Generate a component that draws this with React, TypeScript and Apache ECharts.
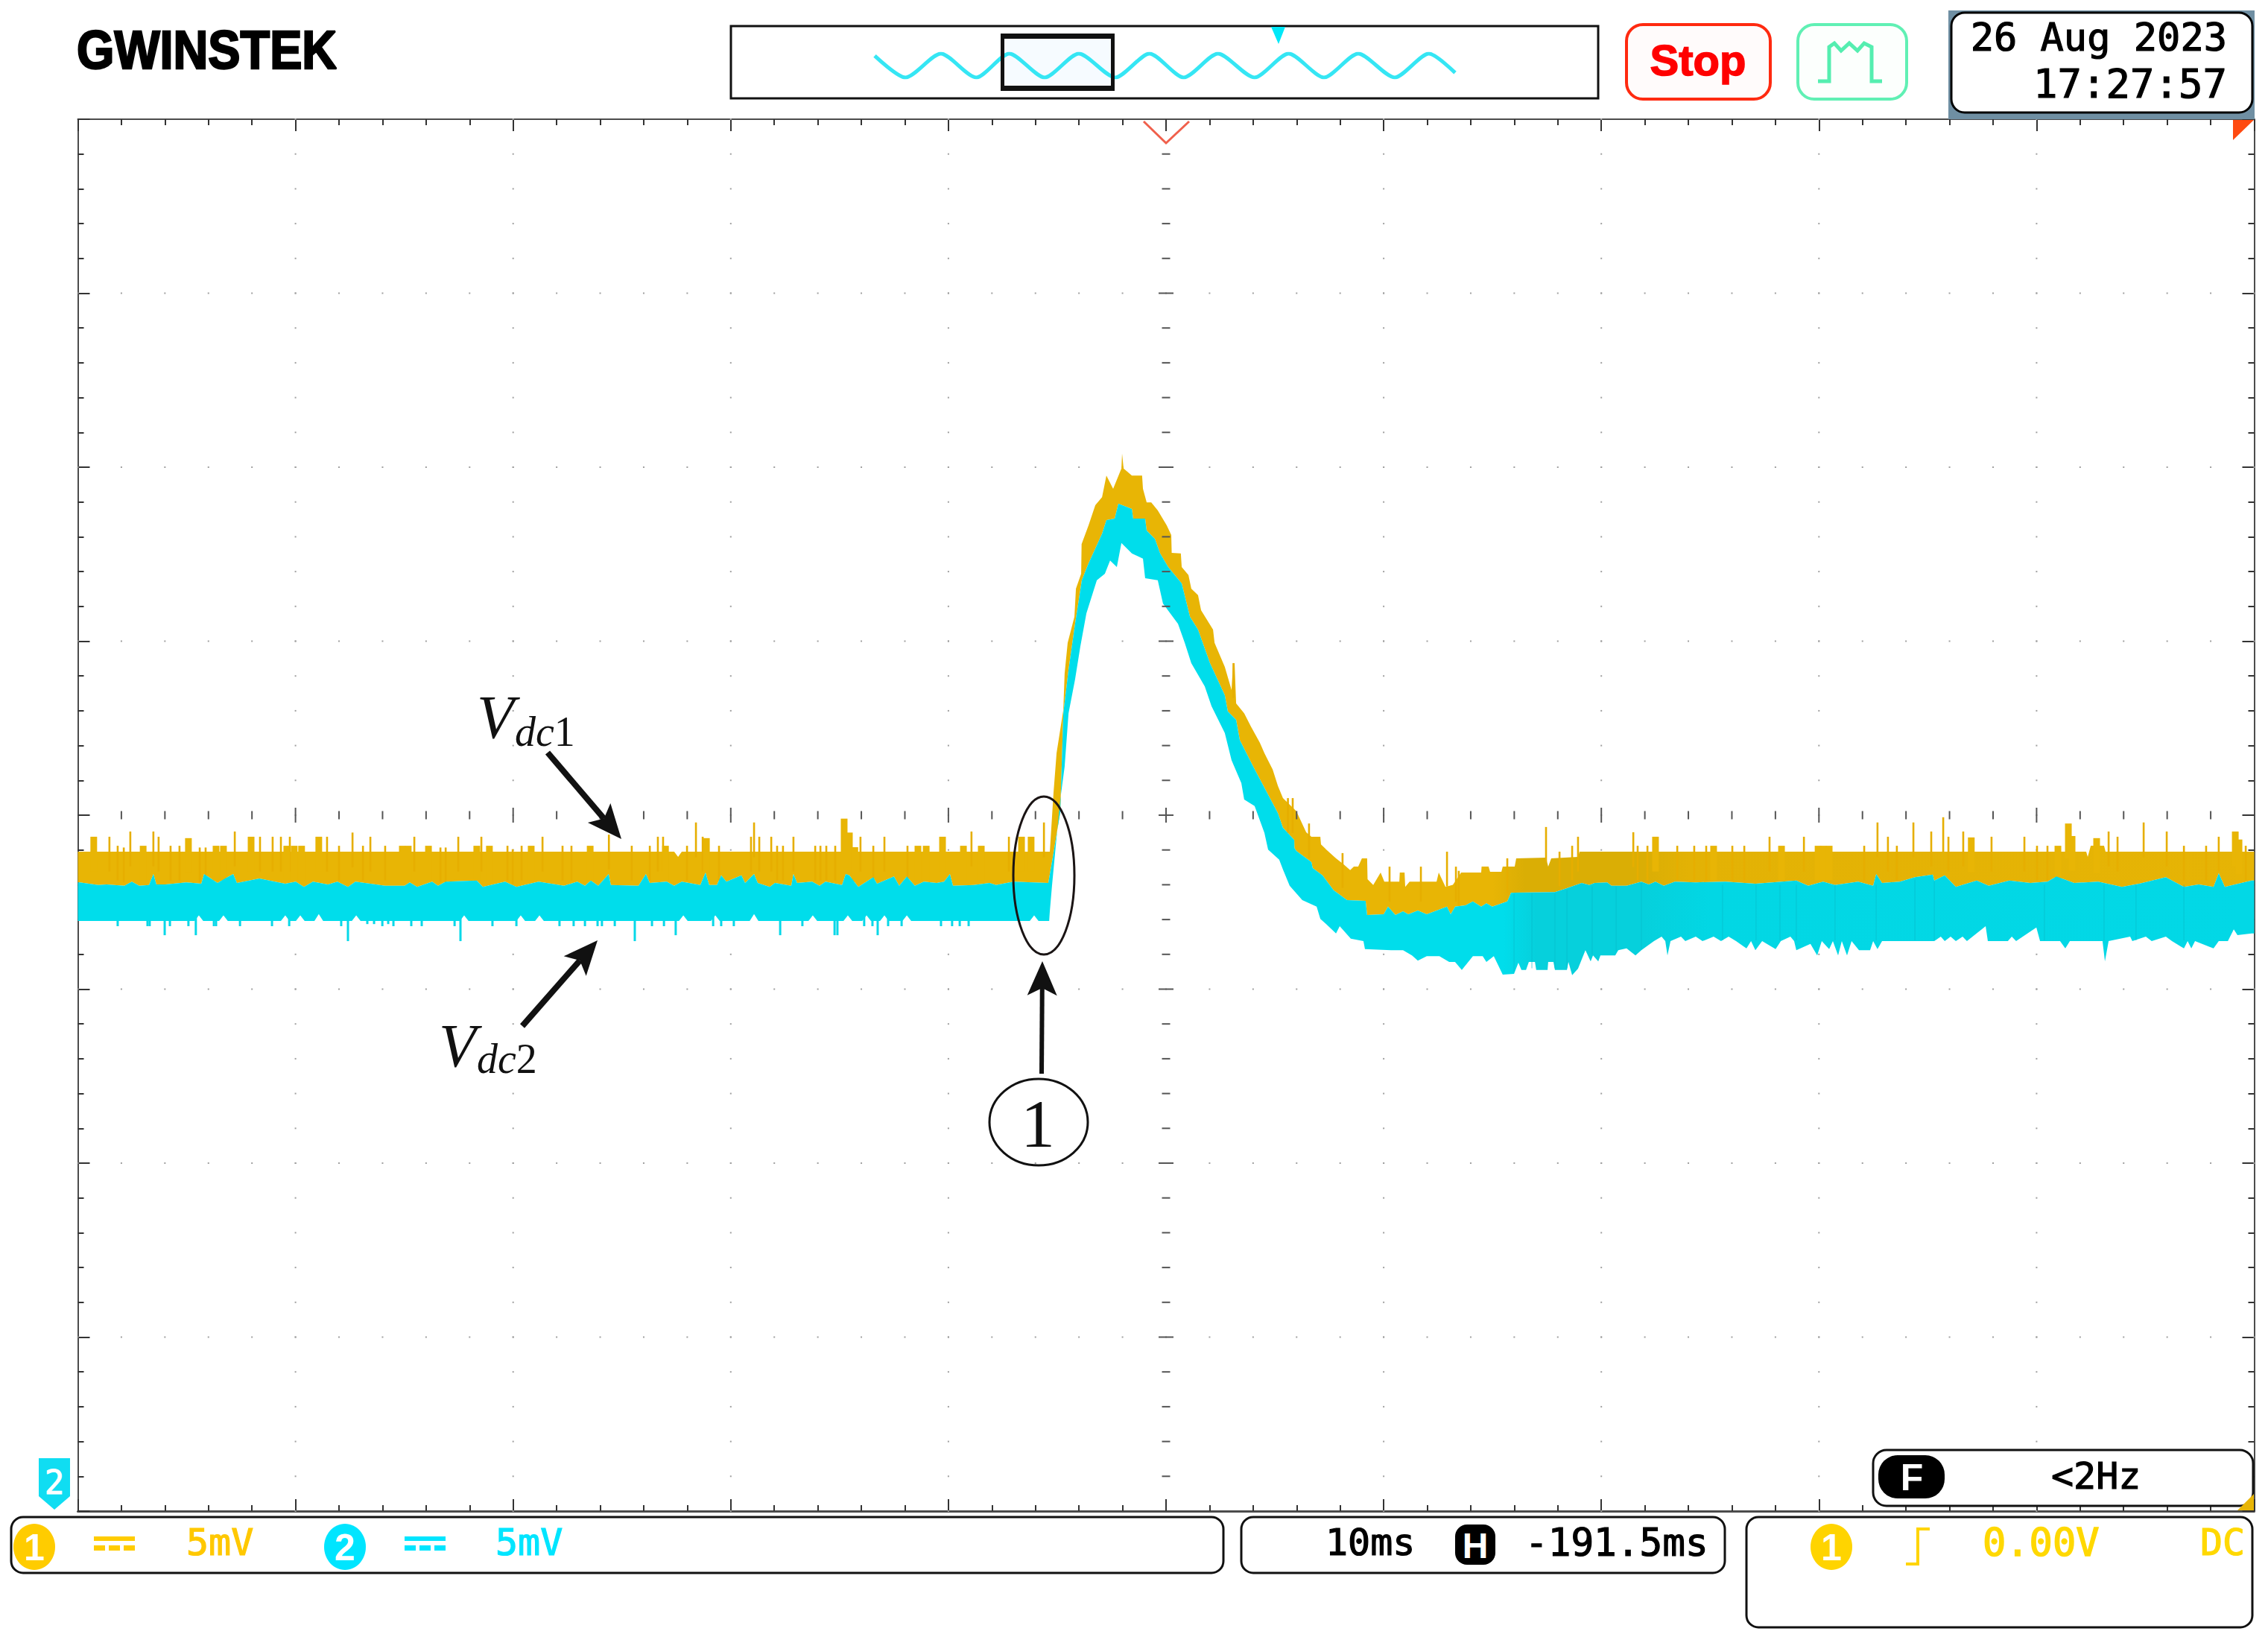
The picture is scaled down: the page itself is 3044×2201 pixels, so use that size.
import React, { useEffect, useRef } from "react";
import * as echarts from "echarts";

// ---------- axes (10 ms/div, 5 mV/div) ----------
const timeMin = -50;
const timeMax = 50;
const timeDiv = 10;
const voltMin = -20;
const voltMax = 20;
const voltDiv = 5;

// ---------- Ch1 Vdc1 upper envelope [ms, mV] ----------
const yellowTop: number[][] = [
  [-50, -1.05], [-22.6, -1.05], [-22.42, -1.2], [-22.25, -1.05], [-5.34, -1.05], [-5.17, 0.64], [-5.03, 1.78],
  [-4.72, 3.02], [-4.66, 4.07], [-4.52, 4.95], [-4.21, 5.7], [-4.14, 6.51], [-3.9, 6.94], [-3.88, 7.79],
  [-3.56, 8.33], [-3.25, 8.91], [-2.94, 9.14], [-2.74, 9.76], [-2.43, 9.38], [-2.05, 9.96], [-2.02, 10.39],
  [-1.95, 9.96], [-1.57, 9.76], [-1.1, 9.76], [-1.06, 9.38], [-0.89, 8.99], [-0.68, 8.99], [-0.38, 8.76],
  [0.03, 8.33], [0.24, 8.05], [0.26, 7.54], [0.68, 7.52], [0.72, 7.13], [1.03, 6.9], [1.16, 6.51], [1.47, 6.32],
  [1.61, 5.89], [2.16, 5.33], [2.23, 4.95], [2.7, 4.26], [3.01, 3.6], [3.08, 4.37], [3.15, 4.37], [3.22, 3.21],
  [3.59, 2.93], [3.9, 2.55], [4.31, 2.08], [4.52, 1.78], [4.9, 1.31], [5.14, 0.84], [5.37, 0.49], [5.99, 0.11],
  [6.44, -0.49], [6.68, -0.62], [7.09, -0.62], [7.12, -0.84], [7.43, -1.03], [7.81, -1.24], [8.15, -1.41],
  [8.46, -1.58], [8.63, -1.48], [8.83, -1.48], [9.0, -1.24], [9.24, -1.24], [9.26, -1.84], [9.52, -2.01],
  [9.86, -1.65], [10.03, -1.91], [10.72, -1.91], [10.74, -1.65], [10.96, -1.65], [10.99, -2.06], [11.19, -1.91],
  [12.43, -1.91], [12.53, -1.65], [12.84, -2.06], [13.18, -2.0], [13.56, -1.65], [14.48, -1.65], [14.5, -1.48],
  [14.82, -1.48], [14.89, -1.63], [15.41, -1.63], [15.47, -1.48], [16.02, -1.48], [16.09, -1.24], [17.46, -1.22],
  [17.56, -1.48], [17.7, -1.24], [18.93, -1.2], [19.0, -1.05], [42.28, -1.05], [42.35, -1.2], [42.49, -0.88],
  [43.1, -0.88], [43.17, -1.05], [50, -1.05],
];

// Ch1 narrow spikes, tip [ms, mV]
const yellowSpikes: number[][] = [
  [-48.55, -0.62], [-48.17, -0.88], [-47.89, -0.93], [-47.59, -0.47], [-46.53, -0.47], [-46.29, -0.62], [-45.74, -0.88],
  [-45.33, -0.88], [-44.4, -0.93], [-44.13, -0.93], [-42.79, -0.47], [-41.63, -0.62], [-41.05, -0.62], [-40.67, -0.62],
  [-40.26, -0.62], [-38.55, -0.62], [-38.0, -0.88], [-37.38, -0.5], [-36.9, -0.88], [-36.56, -0.62], [-35.88, -0.88],
  [-34.54, -0.62], [-33.34, -0.93], [-33.1, -0.93], [-32.52, -0.62], [-31.46, -0.62], [-30.26, -0.88], [-30.02, -0.98],
  [-29.61, -0.88], [-28.65, -0.62], [-27.73, -0.88], [-27.32, -0.88], [-25.6, -0.56], [-24.55, -0.88], [-23.72, -0.88],
  [-23.35, -0.62], [-23.11, -0.62], [-22.01, -0.88], [-21.6, -0.21], [-21.29, -0.62], [-20.54, -0.88], [-19.07, -0.62],
  [-18.93, -0.21], [-18.69, -0.62], [-18.14, -0.62], [-17.87, -0.88], [-17.6, -0.88], [-17.12, -0.62], [-16.12, -0.88],
  [-15.88, -0.88], [-15.61, -0.88], [-15.2, -0.88], [-14.04, -0.62], [-13.45, -0.88], [-12.94, -0.62], [-11.88, -0.88],
  [-8.94, -0.47], [-7.22, -0.62], [-5.61, -0.21], [3.1, 4.37], [5.6, 0.49], [5.82, 0.49], [6.57, -0.24], [8.11, -1.09],
  [10.27, -1.48], [11.71, -1.48], [12.91, -1.05], [13.32, -1.48], [13.45, -1.6], [15.68, -1.24], [17.46, -0.34],
  [18.08, -1.05], [18.66, -0.88], [18.93, -0.62], [21.47, -0.49], [21.67, -0.88], [22.12, -0.88], [23.49, -0.88],
  [24.27, -0.88], [24.82, -0.88], [26.02, -0.88], [26.57, -0.88], [27.73, -0.62], [29.31, -0.62], [32.08, -0.88],
  [32.69, -0.21], [33.17, -0.62], [33.58, -0.88], [34.34, -0.21], [35.16, -0.47], [35.71, -0.06], [35.95, -0.62],
  [36.63, -0.47], [37.93, -0.62], [39.44, -0.62], [40.02, -0.88], [40.5, -0.88], [43.31, -0.47], [43.72, -0.62],
  [44.92, -0.21], [45.98, -0.47], [46.77, -0.88], [47.79, -0.88], [48.37, -0.62], [49.61, -0.88],
];

// Ch1 wider noise bumps, top [ms, mV]
const yellowBumps: number[][] = [
  [-49.27, -0.62], [-47.0, -0.88], [-44.92, -0.66], [-43.65, -0.88], [-43.31, -0.88], [-42.04, -0.62], [-40.4, -0.88],
  [-40.06, -0.88], [-39.72, -0.88], [-38.93, -0.62], [-35.09, -0.88], [-34.82, -0.88], [-33.89, -0.88], [-31.67, -0.88],
  [-31.09, -0.88], [-29.17, -0.88], [-26.46, -0.88], [-23.0, -0.88], [-21.12, -0.66], [-14.79, -0.1], [-14.55, -0.5],
  [-14.3, -0.92], [-11.4, -0.88], [-11.02, -0.88], [-10.27, -0.62], [-9.31, -0.88], [-8.49, -0.88], [-6.64, -0.62],
  [-6.2, -0.62], [22.49, -0.62], [25.16, -0.88], [28.28, -0.88], [29.96, -0.88], [30.2, -0.88], [30.47, -0.88],
  [37.0, -0.64], [40.98, -0.88], [41.46, -0.24], [41.63, -0.6], [42.76, -0.66], [49.13, -0.47], [49.3, -0.7],
];

// ---------- Ch2 Vdc2 upper envelope [ms, mV] ----------
const cyanTop: number[][] = [
  [-50, -1.93], [-49.91, -1.93], [-49.06, -2.01], [-48.68, -1.99], [-47.86, -2.03], [-47.52, -1.91], [-47.18, -2.03],
  [-46.73, -2.01], [-46.53, -1.69], [-46.39, -1.99], [-45.98, -1.99], [-45.02, -1.93], [-44.33, -1.97], [-44.2, -1.69],
  [-43.58, -1.95], [-43.24, -1.82], [-42.86, -1.69], [-42.69, -1.95], [-41.66, -1.82], [-40.47, -1.97], [-39.99, -1.91],
  [-39.61, -2.06], [-39.2, -1.91], [-38.51, -1.99], [-38.07, -1.91], [-37.59, -2.06], [-37.25, -1.91], [-35.88, -2.03],
  [-34.99, -2.03], [-34.75, -1.93], [-34.41, -2.06], [-33.72, -1.91], [-33.45, -2.03], [-33.1, -1.91], [-31.67, -1.88],
  [-31.39, -2.06], [-30.37, -1.91], [-29.85, -2.06], [-28.83, -1.91], [-27.66, -2.03], [-27.05, -1.91], [-26.7, -2.03],
  [-26.43, -1.88], [-26.09, -2.03], [-25.61, -1.69], [-25.51, -2.01], [-24.24, -2.03], [-23.9, -1.69], [-23.72, -1.95],
  [-22.94, -1.91], [-22.6, -2.03], [-22.25, -1.91], [-21.4, -2.01], [-21.16, -1.65], [-20.99, -2.01], [-20.64, -2.01],
  [-20.44, -1.73], [-20.2, -1.91], [-19.51, -1.73], [-19.34, -1.95], [-18.93, -1.69], [-18.76, -1.95], [-18.21, -2.06],
  [-17.97, -1.95], [-17.22, -2.03], [-17.12, -1.69], [-16.95, -1.95], [-16.26, -1.91], [-15.92, -2.03], [-15.65, -1.91],
  [-14.89, -2.01], [-14.72, -1.69], [-14.55, -1.73], [-14.14, -2.06], [-13.45, -1.78], [-13.28, -1.97], [-12.5, -1.76],
  [-12.26, -2.03], [-11.91, -1.76], [-11.54, -2.03], [-11.13, -1.91], [-10.54, -1.95], [-10.2, -1.91], [-9.93, -1.69],
  [-9.79, -2.03], [-8.83, -2.01], [-8.11, -1.95], [-7.81, -2.01], [-7.02, -1.91], [-5.41, -1.95], [-5.2, -1.2],
  [-4.86, 0.09], [-4.72, 2.93], [-4.48, 4.18], [-4.18, 5.5], [-3.87, 6.75], [-3.56, 7.24], [-2.94, 8.09], [-2.74, 8.48],
  [-2.36, 8.52], [-2.19, 8.95], [-1.57, 8.8], [-1.51, 8.52], [-0.96, 8.52], [-0.89, 8.18], [-0.51, 7.94], [-0.27, 7.52],
  [0.1, 7.13], [0.72, 6.66], [1.1, 5.7], [1.47, 5.33], [2.02, 4.37], [2.7, 3.45], [2.84, 2.98], [3.22, 2.74], [3.39, 2.16],
  [4.01, 1.39], [5.14, 0.06], [5.37, -0.36], [5.89, -0.71], [5.9, -0.94], [5.99, -1.03], [6.68, -1.35], [6.74, -1.52],
  [7.19, -1.73], [7.7, -2.16], [8.32, -2.44], [9.17, -2.46], [9.24, -2.87], [10.0, -2.85], [10.2, -2.63], [10.54, -2.87],
  [10.89, -2.76], [11.13, -2.85], [11.57, -2.74], [11.98, -2.85], [12.91, -2.63], [13.08, -2.85], [13.28, -2.63],
  [13.76, -2.59], [14.1, -2.48], [14.48, -2.63], [14.72, -2.53], [14.99, -2.63], [15.68, -2.48], [15.85, -2.23],
  [17.87, -2.21], [18.32, -2.12], [19.1, -1.95], [19.45, -2.01], [19.69, -1.95], [20.27, -1.93], [20.47, -2.03],
  [21.16, -2.03], [21.84, -1.91], [22.18, -1.99], [22.49, -1.91], [22.87, -2.03], [23.38, -1.91], [24.34, -1.93],
  [25.71, -1.91], [27.08, -1.97], [28.96, -1.88], [29.51, -2.03], [30.19, -1.91], [30.74, -2.01], [31.8, -1.91],
  [32.49, -2.03], [32.63, -1.69], [32.9, -1.95], [33.72, -1.91], [34.41, -1.78], [35.23, -1.71], [35.3, -1.88],
  [35.78, -1.73], [36.29, -2.06], [37.25, -1.88], [37.8, -2.03], [38.75, -1.88], [39.71, -1.95], [40.5, -1.91],
  [40.91, -1.76], [41.73, -1.95], [42.83, -1.91], [43.92, -2.06], [44.71, -1.97], [45.94, -1.78], [46.77, -2.06],
  [47.45, -1.99], [48.13, -2.06], [48.37, -1.67], [48.65, -2.06], [49.88, -1.88], [50, -1.88],
];

// Ch2 lower envelope [ms, mV]
const cyanBottom: number[][] = [
  [-50, -3.04], [-44.64, -3.04], [-44.44, -2.88], [-44.24, -3.04], [-43.51, -3.04], [-43.31, -2.88], [-43.11, -3.04],
  [-40.67, -3.04], [-40.47, -2.88], [-40.27, -3.04], [-39.98, -3.04], [-39.78, -2.88], [-39.58, -3.04], [-39.13, -3.04],
  [-38.93, -2.84], [-38.73, -3.04], [-37.41, -3.04], [-37.21, -2.88], [-37.01, -3.04], [-32.45, -3.04], [-32.25, -2.88],
  [-32.05, -3.04], [-29.85, -3.04], [-29.65, -2.88], [-29.45, -3.04], [-28.99, -3.04], [-28.79, -2.88], [-28.59, -3.04],
  [-22.38, -3.04], [-22.18, -2.88], [-21.98, -3.04], [-20.91, -3.04], [-20.71, -2.88], [-20.51, -3.04], [-19.13, -3.04],
  [-18.93, -2.84], [-18.73, -3.04], [-16.43, -3.04], [-16.23, -2.88], [-16.03, -3.04], [-14.82, -3.04], [-14.62, -2.88],
  [-14.42, -3.04], [-13.96, -3.04], [-13.76, -2.88], [-13.56, -3.04], [-13.14, -3.04], [-12.94, -2.88], [-12.74, -3.04],
  [-12.11, -3.04], [-11.91, -2.88], [-11.71, -3.04], [-6.26, -3.04], [-6.06, -2.88], [-5.86, -3.04], [-5.37, -3.04],
  [-5.34, -2.76], [-5.24, -2.03], [-5.07, -0.9], [-4.86, 0.45], [-4.66, 1.39], [-4.48, 2.93], [-4.18, 3.9], [-3.94, 4.84],
  [-3.66, 5.8], [-3.18, 6.75], [-2.81, 6.94], [-2.57, 7.32], [-2.26, 7.13], [-2.05, 7.82], [-1.57, 7.52], [-1.06, 7.37],
  [-0.96, 6.81], [-0.38, 6.75], [-0.14, 6.08], [0.55, 5.5], [0.86, 4.95], [1.16, 4.37], [1.78, 3.7], [2.09, 3.13],
  [2.7, 2.36], [3.01, 1.58], [3.46, 0.92], [3.59, 0.45], [4.07, 0.26], [4.52, -0.51], [4.69, -0.99], [5.2, -1.28],
  [5.37, -1.56], [5.68, -2.03], [6.26, -2.44], [6.92, -2.63], [7.09, -2.98], [7.36, -3.13], [7.81, -3.4], [7.98, -3.19],
  [8.49, -3.55], [9.07, -3.62], [9.14, -3.85], [10.34, -3.88], [10.89, -3.88], [11.3, -4.03], [11.57, -4.18],
  [11.98, -4.05], [12.56, -4.05], [13.01, -4.22], [13.28, -4.22], [13.59, -4.45], [14.1, -4.05], [14.55, -4.05],
  [14.72, -4.22], [15.06, -4.05], [15.47, -4.58], [15.99, -4.56], [16.19, -4.24], [16.33, -4.45], [16.54, -4.45],
  [16.67, -4.22], [16.95, -4.22], [17.01, -4.45], [17.53, -4.45], [17.56, -4.22], [17.8, -4.22], [17.87, -4.45],
  [18.42, -4.45], [18.49, -4.22], [18.66, -4.6], [18.93, -4.41], [19.27, -3.88], [19.51, -4.2], [19.62, -4.03],
  [19.86, -4.2], [19.96, -4.03], [20.64, -4.03], [20.78, -3.88], [21.16, -3.83], [21.57, -4.03], [21.84, -3.88],
  [22.42, -3.62], [22.77, -3.49], [22.94, -3.62], [23.04, -4.03], [23.18, -3.62], [23.66, -3.49], [23.86, -3.62],
  [24.34, -3.49], [24.65, -3.62], [25.16, -3.49], [25.5, -3.62], [25.85, -3.49], [26.19, -3.62], [26.67, -3.83],
  [26.88, -3.62], [27.08, -3.88], [27.39, -3.62], [28.01, -3.85], [28.25, -3.62], [28.69, -3.49], [28.86, -3.62],
  [28.96, -3.88], [29.61, -3.7], [29.92, -4.03], [30.13, -3.62], [30.47, -3.85], [30.64, -3.62], [30.88, -4.03],
  [31.05, -3.62], [31.29, -4.03], [31.5, -3.62], [31.84, -3.88], [32.35, -3.88], [32.49, -3.62], [32.69, -3.85],
  [32.9, -3.62], [35.3, -3.62], [35.6, -3.49], [35.78, -3.62], [36.05, -3.49], [36.29, -3.62], [36.6, -3.49],
  [36.8, -3.62], [37.66, -3.19], [37.76, -3.62], [38.68, -3.62], [38.86, -3.49], [39.06, -3.62], [39.99, -3.23],
  [40.16, -3.62], [41.08, -3.62], [41.32, -3.83], [41.53, -3.62], [43.03, -3.62], [43.14, -4.2], [43.31, -3.62],
  [44.3, -3.49], [44.4, -3.62], [45.02, -3.49], [45.29, -3.62], [45.94, -3.49], [46.22, -3.62], [46.77, -3.83],
  [46.94, -3.62], [47.11, -3.83], [47.28, -3.62], [48.13, -3.83], [48.37, -3.62], [48.79, -3.62], [49.06, -3.28],
  [49.23, -3.45], [49.88, -3.4], [50, -3.4],
];

// Ch2 narrow spikes, tip [ms, mV]
const cyanSpikes: number[][] = [
  [-48.17, -3.19], [-46.01, -3.45], [-45.77, -3.19], [-44.92, -3.19], [-44.58, -3.45], [-42.55, -3.19], [-41.08, -3.19],
  [-40.29, -3.19], [-37.9, -3.19], [-37.59, -3.62], [-36.7, -3.13], [-36.39, -3.13], [-36.01, -3.19], [-35.74, -3.13],
  [-35.5, -3.19], [-34.68, -3.19], [-34.2, -3.19], [-32.69, -3.19], [-32.42, -3.62], [-30.95, -3.19], [-29.85, -3.19],
  [-27.87, -3.19], [-27.22, -3.19], [-26.7, -3.19], [-26.12, -3.19], [-25.92, -3.19], [-25.33, -3.19], [-24.41, -3.62],
  [-23.62, -3.19], [-23.07, -3.19], [-22.53, -3.45], [-20.81, -3.19], [-20.44, -3.19], [-19.86, -3.19], [-17.73, -3.45],
  [-16.71, -3.19], [-15.23, -3.45], [-15.1, -3.45], [-13.87, -3.19], [-13.49, -3.19], [-13.25, -3.45], [-12.77, -3.19],
  [-12.15, -3.19], [-10.34, -3.19], [-9.83, -3.19], [-9.48, -3.19], [-9.07, -3.19], [-46.8, -3.19], [-46.7, -3.19],
  [-43.75, -3.19], [-43.65, -3.19],
];

// Ch2 darker vertical streaks [ms, high mV, low mV]
const cyanStreaks: number[][] = [
  [15.99, -2.25, -4.5], [16.81, -2.25, -4.4], [17.87, -2.25, -4.4], [18.42, -2.15, -4.4], [19.58, -2.05, -4.0],
  [20.68, -2.05, -3.9], [21.84, -1.95, -3.85], [25.57, -2.0, -3.6], [27.11, -2.0, -3.6], [28.21, -2.0, -3.6],
  [28.96, -2.0, -3.6], [30.74, -2.0, -3.6], [32.63, -2.0, -3.6], [34.41, -1.85, -3.6], [35.3, -1.9, -3.6],
  [40.36, -2.0, -3.6], [43.1, -2.0, -3.6], [44.57, -2.0, -3.6], [46.77, -2.0, -3.6],
];

// ---------- acquisition overview strip [ms, normalised] ----------
const overviewWave: number[][] = [
  [0, 0.82], [27, -1], [58, 1], [89, -1], [118, 1], [149, -1], [179, 1], [211, -1], [241, 1], [271, -1], [301, 1],
  [333, -1], [363, 1], [394, -1], [424, 1], [456, -1], [486, 1], [509, -0.6],
];

const YELLOW = "#E8B505";
const CYAN = "#00DDEB";
const FRAME = "#4c4c4c";
const MONO = "'DejaVu Sans Mono'";
const SERIF = "'Liberation Serif'";
const SANS = "'Liberation Sans'";

function range(a: number, b: number, s: number) {
  const r: number[] = [];
  for (let v = a; v <= b + 1e-9; v += s) r.push(Math.round(v * 100) / 100);
  return r;
}

function bandSeries(points: number[][], stops: { offset: number; color: string }[], name: string) {
  return {
    type: "custom",
    name,
    coordinateSystem: "cartesian2d",
    xAxisIndex: 0,
    yAxisIndex: 0,
    silent: true,
    clip: true,
    data: points,
    encode: { x: 0, y: 1 },
    renderItem: (params: any, api: any) => {
      if (params.dataIndex !== 0) return null;
      return {
        type: "polygon",
        shape: { points: points.map((p) => api.coord(p)) },
        style: { fill: new echarts.graphic.LinearGradient(0, 0, 1, 0, stops), stroke: null },
      };
    },
  };
}

function spikeSeries(points: number[][], length: number, width: number, color: string, name: string) {
  return {
    type: "custom",
    name,
    coordinateSystem: "cartesian2d",
    xAxisIndex: 0,
    yAxisIndex: 0,
    silent: true,
    data: points,
    encode: { x: 0, y: 1 },
    renderItem: (_: any, api: any) => {
      const t = api.value(0);
      const v = api.value(1);
      const a = api.coord([t, v]);
      const b = api.coord([t, v + length]);
      return {
        type: "line",
        shape: { x1: a[0], y1: a[1], x2: b[0], y2: b[1] },
        style: { stroke: color, lineWidth: width, fill: null },
      };
    },
  };
}

function arrow(x1: number, y1: number, x2: number, y2: number, w: number) {
  const dx = x2 - x1;
  const dy = y2 - y1;
  const d = Math.hypot(dx, dy);
  const ux = dx / d;
  const uy = dy / d;
  const L = 46;
  const H = 20;
  const bx = x2 - ux * L;
  const by = y2 - uy * L;
  const nx = x2 - ux * (L - 10);
  const ny = y2 - uy * (L - 10);
  return [
    { type: "line", z: 100, shape: { x1, y1, x2: nx, y2: ny }, style: { stroke: "#111", lineWidth: w } },
    {
      type: "polygon",
      z: 100,
      shape: { points: [[x2, y2], [bx - uy * H, by + ux * H], [nx, ny], [bx + uy * H, by - ux * H]] },
      style: { fill: "#111" },
    },
  ];
}

function label(x: number, y: number, text: string, font: string, fill: string, align = "left", heavy = 0, extra: any = {}) {
  return {
    type: "text",
    z: 101,
    x,
    y,
    ...extra,
    style: {
      text,
      font,
      fill,
      align,
      textAlign: align,
      verticalAlign: "middle",
      textVerticalAlign: "middle",
      ...(heavy ? { stroke: fill, lineWidth: heavy } : {}),
    },
  };
}

function box(x: number, y: number, w: number, h: number, r: number, stroke: string, lw: number, fill = "#fff") {
  return { type: "rect", z: 99, shape: { x, y, width: w, height: h, r }, style: { fill, stroke, lineWidth: lw } };
}

function couplingIcon(x: number, color: string) {
  return [
    { type: "rect", z: 100, shape: { x, y: 2062, width: 55, height: 6 }, style: { fill: color } },
    { type: "rect", z: 100, shape: { x, y: 2074, width: 15, height: 7 }, style: { fill: color } },
    { type: "rect", z: 100, shape: { x: x + 20, y: 2074, width: 15, height: 7 }, style: { fill: color } },
    { type: "rect", z: 100, shape: { x: x + 40, y: 2074, width: 15, height: 7 }, style: { fill: color } },
  ];
}

function channelBadge(cx: number, color: string, n: string) {
  return [
    { type: "ellipse", z: 100, shape: { cx, cy: 2076, rx: 28, ry: 31 }, style: { fill: color } },
    label(cx, 2077, n, `bold 50px ${SANS}`, "#fff", "center"),
  ];
}

function subscript(x: number, y: number, main: string, digit: string) {
  return {
    type: "text",
    z: 101,
    x,
    y,
    style: {
      text: `{i|${main}}{r|${digit}}`,
      verticalAlign: "middle",
      textVerticalAlign: "middle",
      rich: {
        i: { font: `italic 56px ${SERIF}`, fill: "#111" },
        r: { font: `56px ${SERIF}`, fill: "#111" },
      },
    },
  };
}

function annotations(): any[] {
  const yel = "#FFCC00";
  const cy = "#00E5FF";
  return [
    // logo
    label(103, 67, "GWINSTEK", `bold 72px ${SANS}`, "#000", "left", 2.5, { scaleX: 0.9 }),
    // overview strip frame
    { type: "rect", z: 5, shape: { x: 981, y: 35, width: 1164, height: 97 }, style: { fill: "#fff", stroke: "#111", lineWidth: 3 } },
    { type: "rect", z: 6, shape: { x: 1345, y: 48, width: 149, height: 71 }, style: { fill: "#f6fbff", stroke: "#000", lineWidth: 0 } },
    { type: "rect", z: 20, shape: { x: 1343, y: 45, width: 5, height: 77 }, style: { fill: "#111" } },
    { type: "rect", z: 20, shape: { x: 1491, y: 45, width: 5, height: 77 }, style: { fill: "#111" } },
    { type: "rect", z: 20, shape: { x: 1343, y: 45, width: 153, height: 7 }, style: { fill: "#111" } },
    { type: "rect", z: 20, shape: { x: 1343, y: 115, width: 153, height: 7 }, style: { fill: "#111" } },
    { type: "polygon", z: 20, shape: { points: [[1706, 36], [1725, 36], [1716, 59]] }, style: { fill: "#00E8F8" } },
    // run state
    box(2183, 33, 193, 100, 22, "#FF2A10", 4, "#fffbfb"),
    label(2279, 80, "Stop", `bold 58px ${SANS}`, "#FF0000", "center", 1.5),
    box(2413, 33, 146, 100, 22, "#60F0B4", 4, "#fcfffd"),
    {
      type: "polyline",
      z: 100,
      shape: { points: [[2440, 109], [2455, 109], [2455, 63], [2462, 58], [2471, 68], [2482, 58], [2493, 68], [2502, 58], [2512, 63], [2512, 109], [2526, 109]] },
      style: { stroke: "#55EEB0", lineWidth: 5, fill: null },
    },
    // clock
    { type: "rect", z: 98, shape: { x: 2615, y: 14, width: 411, height: 146 }, style: { fill: "#6F8FA3" } },
    box(2619, 17, 404, 134, 18, "#000", 3),
    label(2989, 50, "26 Aug 2023", `52px ${MONO}`, "#000", "right", 1.2),
    label(2989, 112, "17:27:57", `54px ${MONO}`, "#000", "right", 1.2),
    // trigger and position markers
    { type: "polyline", z: 100, shape: { points: [[1535, 163], [1565, 192], [1596, 163]] }, style: { stroke: "#F0604C", lineWidth: 3, fill: null } },
    { type: "polygon", z: 100, shape: { points: [[2997, 161], [3025, 161], [2997, 188]] }, style: { fill: "#FF4A10" } },
    { type: "polygon", z: 100, shape: { points: [[3003, 2027], [3025, 2027], [3025, 2005]] }, style: { fill: YELLOW } },
    { type: "polygon", z: 100, shape: { points: [[52, 1957], [94, 1957], [94, 2008], [73, 2026], [52, 2008]] }, style: { fill: "#10DDF2" } },
    label(73, 1989, "2", `44px ${MONO}`, "#fff", "center", 1),
    // curve annotations
    label(640, 962, "V", `italic 82px ${SERIF}`, "#111"),
    subscript(691, 982, "dc", "1"),
    label(589, 1403, "V", `italic 82px ${SERIF}`, "#111"),
    subscript(640, 1421, "dc", "2"),
    ...arrow(735, 1010, 834, 1126, 8),
    ...arrow(701, 1377, 802, 1262, 8),
    ...arrow(1398, 1441, 1399, 1290, 6),
    { type: "ellipse", z: 100, shape: { cx: 1401, cy: 1175, rx: 41, ry: 106 }, style: { fill: null, stroke: "#1a1414", lineWidth: 3 } },
    { type: "ellipse", z: 100, shape: { cx: 1394, cy: 1506, rx: 66, ry: 58 }, style: { fill: null, stroke: "#111", lineWidth: 3 } },
    label(1393, 1508, "1", `92px ${SERIF}`, "#111", "center"),
    // status bars
    box(15, 2036, 1627, 75, 16, "#111", 3),
    ...channelBadge(46, yel, "1"),
    ...couplingIcon(126, yel),
    label(250, 2070, "5mV", `50px ${MONO}`, "#FFC800", "left", 1.2),
    ...channelBadge(463, cy, "2"),
    ...couplingIcon(543, cy),
    label(665, 2070, "5mV", `50px ${MONO}`, cy, "left", 1.2),
    box(1666, 2036, 649, 75, 16, "#111", 3),
    label(1779, 2070, "10ms", `50px ${MONO}`, "#000", "left", 1.2),
    { type: "rect", z: 100, shape: { x: 1953, y: 2046, width: 54, height: 54, r: 16 }, style: { fill: "#000" } },
    label(1980, 2074, "H", `bold 48px ${SANS}`, "#fff", "center"),
    label(2047, 2070, "-191.5ms", `51px ${MONO}`, "#000", "left", 1.2),
    box(2344, 2036, 679, 148, 16, "#111", 3),
    ...channelBadge(2458, "#FFD400", "1"),
    { type: "polyline", z: 100, shape: { points: [[2558, 2099], [2574, 2099], [2574, 2052], [2590, 2052]] }, style: { stroke: "#FFD400", lineWidth: 4, fill: null } },
    label(2661, 2070, "0.00V", `52px ${MONO}`, "#FFD800", "left", 1.5),
    label(2953, 2070, "DC", `50px ${MONO}`, "#FFD800", "left", 1.2),
    box(2514, 1946, 510, 75, 18, "#111", 3),
    { type: "rect", z: 100, shape: { x: 2521, y: 1953, width: 89, height: 58, r: 26 }, style: { fill: "#000" } },
    label(2566, 1983, "F", `bold 50px ${SANS}`, "#fff", "center"),
    label(2753, 1981, "<2Hz", `50px ${MONO}`, "#000", "left", 1.2),
  ];
}

function sideAxis(position: string, kind: "x" | "y") {
  const base = {
    type: "value",
    position,
    show: true,
    min: kind === "x" ? timeMin : voltMin,
    max: kind === "x" ? timeMax : voltMax,
    interval: kind === "x" ? timeDiv : voltDiv,
    axisLine: { show: true, onZero: false, lineStyle: { color: FRAME, width: position === "bottom" ? 3 : 2 } },
    axisTick: { show: true, inside: true, length: 16, lineStyle: { color: "#333", width: 2 } },
    minorTick: { show: true, splitNumber: 5, length: 8, lineStyle: { color: "#333", width: 2 } },
    axisLabel: { show: false },
    splitLine: { show: false },
    minorSplitLine: { show: false },
    silent: true,
  };
  return base;
}

export default function App() {
  const ref = useRef<HTMLDivElement>(null);
  useEffect(() => {
    if (!ref.current) return;
    const chart = echarts.init(ref.current, undefined, { renderer: "svg" });

    const majorT = range(timeMin + timeDiv, timeMax - timeDiv, timeDiv);
    const majorV = range(voltMin + voltDiv, voltMax - voltDiv, voltDiv);
    const minorT = range(timeMin, timeMax, timeDiv / 5);
    const minorV = range(voltMin, voltMax, voltDiv / 5);
    const dots: number[][] = [];
    majorT.forEach((t) => minorV.forEach((v) => t !== 0 && dots.push([t, v])));
    majorV.forEach((v) => minorT.forEach((t) => v !== 0 && dots.push([t, v])));
    const centreV = minorV.filter((v) => v > voltMin && v < voltMax).map((v) => [0, v, v % voltDiv === 0 ? 1 : 0]);
    const centreH = minorT.filter((t) => t > timeMin && t < timeMax).map((t) => [t, 0, t % timeDiv === 0 ? 1 : 0]);

    const yellowBand = [...yellowTop, ...[...cyanTop].reverse()];
    const cyanBand = [...cyanTop, ...[...cyanBottom].reverse()];

    chart.setOption({
      animation: false,
      backgroundColor: "#ffffff",
      grid: [
        { left: 104.5, right: 18.5, top: 160, bottom: 173, containLabel: false },
        { left: 1174, width: 779, top: 72, height: 32, containLabel: false },
      ],
      xAxis: [
        { ...sideAxis("bottom", "x"), gridIndex: 0 },
        { ...sideAxis("top", "x"), gridIndex: 0 },
        { type: "value", gridIndex: 1, min: 0, max: 509, show: false },
      ],
      yAxis: [
        { ...sideAxis("left", "y"), gridIndex: 0 },
        { ...sideAxis("right", "y"), gridIndex: 0 },
        { type: "value", gridIndex: 1, min: -1, max: 1, show: false },
      ],
      graphic: { elements: annotations() },
      series: [
        {
          type: "custom",
          name: "graticule dots",
          xAxisIndex: 0,
          yAxisIndex: 0,
          silent: true,
          data: dots,
          encode: { x: 0, y: 1 },
          renderItem: (_: any, api: any) => {
            const p = api.coord([api.value(0), api.value(1)]);
            return { type: "rect", shape: { x: p[0] - 1, y: p[1] - 1, width: 2, height: 2 }, style: { fill: "#a0a0a0" } };
          },
        },
        bandSeries(
          yellowBand,
          [
            { offset: 0, color: YELLOW },
            { offset: 0.65, color: YELLOW },
            { offset: 0.665, color: "#DAAE05" },
            { offset: 0.72, color: "#DAAE05" },
            { offset: 0.74, color: "#E3B205" },
            { offset: 1, color: "#E6B405" },
          ],
          "Vdc1"
        ),
        spikeSeries(yellowSpikes, -1, 2.6, "#E6AE00", "Vdc1 spikes"),
        spikeSeries(yellowBumps, -1, 9, YELLOW, "Vdc1 bumps"),
        spikeSeries(cyanSpikes, 1, 3, "#06D8E8", "Vdc2 spikes"),
        bandSeries(
          cyanBand,
          [
            { offset: 0, color: CYAN },
            { offset: 0.655, color: CYAN },
            { offset: 0.67, color: "#06D0DC" },
            { offset: 0.72, color: "#06D0DC" },
            { offset: 0.75, color: "#02D7E4" },
            { offset: 1, color: "#02D8E6" },
          ],
          "Vdc2"
        ),
        {
          type: "custom",
          name: "Vdc2 streaks",
          xAxisIndex: 0,
          yAxisIndex: 0,
          silent: true,
          data: cyanStreaks,
          encode: { x: 0, y: [1, 2] },
          renderItem: (_: any, api: any) => {
            const a = api.coord([api.value(0), api.value(1)]);
            const b = api.coord([api.value(0), api.value(2)]);
            return {
              type: "line",
              shape: { x1: a[0], y1: a[1], x2: b[0], y2: b[1] },
              style: { stroke: "#07B9C9", lineWidth: 1.2, opacity: 0.55 },
            };
          },
        },
        {
          type: "custom",
          name: "centre graticule",
          xAxisIndex: 0,
          yAxisIndex: 0,
          silent: true,
          data: [...centreV.map((d) => [...d, 0]), ...centreH.map((d) => [...d, 1])],
          encode: { x: 0, y: 1 },
          renderItem: (_: any, api: any) => {
            const p = api.coord([api.value(0), api.value(1)]);
            const half = api.value(2) ? 10 : 5.5;
            const horizontalAxis = api.value(3) === 1;
            return {
              type: "line",
              shape: horizontalAxis
                ? { x1: p[0], y1: p[1] - half, x2: p[0], y2: p[1] + half }
                : { x1: p[0] - half, y1: p[1], x2: p[0] + half, y2: p[1] },
              style: { stroke: "#555", lineWidth: 2 },
            };
          },
        },
        {
          type: "line",
          name: "overview",
          xAxisIndex: 2,
          yAxisIndex: 2,
          data: overviewWave,
          smooth: 0.25,
          showSymbol: false,
          silent: true,
          z: 10,
          lineStyle: { color: "#35E6F4", width: 5 },
        },
      ],
    });
    return () => chart.dispose();
  }, []);
  return <div ref={ref} style={{ position: "absolute", left: 0, top: 0, width: 3044, height: 2201 }} />;
}
